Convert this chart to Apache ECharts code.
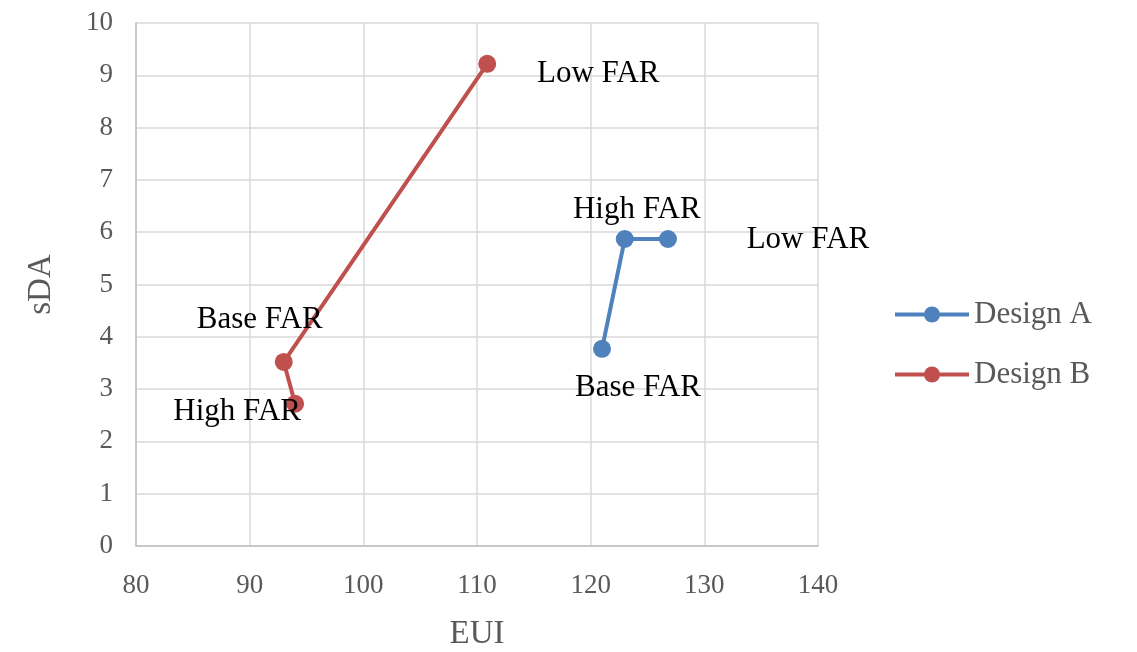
<!DOCTYPE html>
<html>
<head>
<meta charset="utf-8">
<script src="https://cdn.jsdelivr.net/npm/echarts@6/dist/echarts.min.js"></script>
<style>html,body{margin:0;padding:0;background:#fff;}#c{width:1137px;height:652px;}</style>
</head>
<body>
<div id="c"></div>
<script>
const seriesNames = ['Design A', 'Design B'];
const designA_EUI = [121, 123, 126.8];
const designA_sDA = [3.77, 5.87, 5.87];
const designA_labels = ['Base FAR', 'High FAR', 'Low FAR'];
const designB_EUI = [110.9, 93.0, 94.0];
const designB_sDA = [9.22, 3.52, 2.72];
const designB_labels = ['Low FAR', 'Base FAR', 'High FAR'];
const xTicks = [80, 90, 100, 110, 120, 130, 140];
const yTicks = [0, 1, 2, 3, 4, 5, 6, 7, 8, 9, 10];

const labelOffsetsA = [[36, 39], [12, -29], [140, 1]];
const labelOffsetsB = [[111, 10], [-24, -42], [-58, 8]];

function build(xs, ys, labels, offs) {
  return xs.map((x, i) => ({
    value: [x, ys[i]],
    label: { show: true, position: 'inside', offset: offs[i], formatter: labels[i] }
  }));
}

const font = 'Liberation Serif';
const chart = echarts.init(document.getElementById('c'));
chart.setOption({
  animation: false,
  textStyle: { fontFamily: font },
  grid: { left: 136, right: 319, top: 23, bottom: 106, outerBoundsMode: 'none', containLabel: false },
  xAxis: {
    type: 'value', min: xTicks[0], max: xTicks[xTicks.length - 1], interval: 10,
    name: 'EUI', nameLocation: 'middle', nameGap: 72,
    nameTextStyle: { fontFamily: font, fontSize: 33, color: '#595959' },
    axisLine: { show: true, lineStyle: { color: '#bfbfbf', width: 1.5 } },
    axisTick: { show: false },
    axisLabel: { fontFamily: font, fontSize: 27, color: '#595959', margin: 26 },
    splitLine: { show: true, lineStyle: { color: '#d9d9d9', width: 1.5 } }
  },
  yAxis: {
    type: 'value', min: yTicks[0], max: yTicks[yTicks.length - 1], interval: 1,
    name: 'sDA', nameLocation: 'middle', nameGap: 78,
    nameTextStyle: { fontFamily: font, fontSize: 33, color: '#595959' },
    axisLine: { show: true, lineStyle: { color: '#bfbfbf', width: 1.5 } },
    axisTick: { show: false },
    axisLabel: { fontFamily: font, fontSize: 27, color: '#595959', margin: 23 },
    splitLine: { show: true, lineStyle: { color: '#d9d9d9', width: 1.5 } }
  },
  legend: {
    orient: 'vertical', left: 888, top: 294, itemGap: 29,
    itemWidth: 74, itemHeight: 20,
    lineStyle: { width: 4 },
    textStyle: { fontFamily: font, fontSize: 31, color: '#595959' },
    data: seriesNames
  },
  series: [
    {
      name: seriesNames[0], type: 'line', symbol: 'circle', symbolSize: 18,
      itemStyle: { color: '#4F81BD' }, lineStyle: { width: 4, color: '#4F81BD' },
      label: { fontFamily: font, fontSize: 31, color: '#000' },
      data: build(designA_EUI, designA_sDA, designA_labels, labelOffsetsA)
    },
    {
      name: seriesNames[1], type: 'line', symbol: 'circle', symbolSize: 18,
      itemStyle: { color: '#C0504D' }, lineStyle: { width: 4, color: '#C0504D' },
      label: { fontFamily: font, fontSize: 31, color: '#000' },
      data: build(designB_EUI, designB_sDA, designB_labels, labelOffsetsB)
    }
  ]
});
</script>
</body>
</html>
